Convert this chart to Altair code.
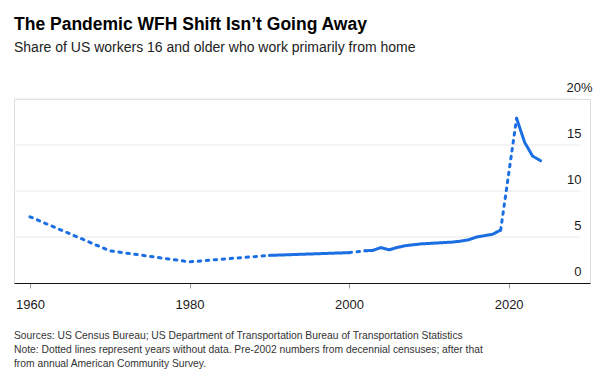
import altair as alt
import pandas as pd

# ---- data ----
census_years = [1960, 1970, 1980, 1990, 2000]
census_share = [7.2, 3.5, 2.3, 3.0, 3.3]
acs_years = [2002, 2003, 2004, 2005, 2006, 2007, 2008, 2009, 2010, 2011, 2012,
             2013, 2014, 2015, 2016, 2017, 2018, 2019, 2021, 2022, 2023, 2024]
acs_share = [3.5, 3.55, 3.85, 3.6, 3.85, 4.05, 4.15, 4.25, 4.3, 4.35, 4.4,
             4.45, 4.55, 4.7, 5.0, 5.15, 5.3, 5.75, 17.9, 15.3, 13.8, 13.3]
dotted_spans = [(1960, 1990), (2000, 2002), (2019, 2021)]
x_ticks = [1960, 1980, 2000, 2020]
y_ticks = [0, 5, 10, 15, 20]
grid_values = [5, 10, 15, 20]

title = "The Pandemic WFH Shift Isn\u2019t Going Away"
subtitle = "Share of US workers 16 and older who work primarily from home"
footer = ("Sources: US Census Bureau; US Department of Transportation Bureau of Transportation Statistics\n"
          "Note: Dotted lines represent years without data. Pre-2002 numbers from decennial censuses; after that\n"
          "from annual American Community Survey.")

years = census_years + acs_years
share = census_share + acs_share

rows = []
seg = 0
prev = None
for i in range(len(years) - 1):
    y0, y1 = years[i], years[i + 1]
    style = "dotted" if any(a <= y0 and y1 <= b for a, b in dotted_spans) else "solid"
    if style != prev:
        seg += 1
        rows.append(dict(year=y0, share=share[i], seg=seg, style=style))
        prev = style
    rows.append(dict(year=y1, share=share[i + 1], seg=seg, style=style))
df = pd.DataFrame(rows)

FONT = "Liberation Sans"
BLUE = "#1c6fe3"
W, H = 576, 184

x_scale = alt.Scale(domain=[1958, 2030.2], nice=False, zero=False)
y_scale = alt.Scale(domain=[0, 20], nice=False)

y_axis = alt.Axis(
    orient="right", values=y_ticks, grid=False, domain=False, ticks=False,
    labelExpr="datum.value == 20 ? '20%' : datum.label",
    labelAlign="right", labelBaseline="alphabetic", labelOffset=-8,
    labelPadding={"condition": {"test": "datum.value == 20", "value": 2}, "value": -9},
    labelFontSize=13, labelColor="#1a1a1a", labelFont=FONT, title=None,
)
x_axis = alt.Axis(
    values=x_ticks, format="d", grid=False, domainColor="#111", domainWidth=1,
    tickColor="#999", tickSize=5, labelPadding=10, labelFontSize=13,
    labelColor="#1a1a1a", labelFont=FONT, title=None,
)

grid = alt.Chart(pd.DataFrame({"share": grid_values})).mark_rule(
    color="#e8e8e8", strokeWidth=1
).encode(
    y=alt.Y("share:Q", scale=y_scale, axis=y_axis),
    x=alt.value(0), x2=alt.value(W - 10),
)

line = alt.Chart(df).mark_line(
    strokeWidth=3, strokeCap="round", strokeJoin="round", interpolate="linear", color=BLUE
).encode(
    x=alt.X("year:Q", scale=x_scale, axis=x_axis),
    y=alt.Y("share:Q", scale=y_scale, axis=y_axis),
    detail="seg:N",
    strokeDash=alt.StrokeDash("style:N", scale=alt.Scale(domain=["solid", "dotted"],
                                                          range=[[1, 0], [2.5, 5.5]]), legend=None),
)

notes = alt.Chart(alt.Data(values=[{}])).mark_text(
    text=footer, lineBreak="\n", lineHeight=14.2, align="left", baseline="middle",
    font=FONT, fontSize=10.3, color="#333"
).encode(x=alt.value(0), y=alt.value(236.6))

chart = alt.layer(grid, line, notes).properties(
    width=W, height=H,
    autosize=alt.AutoSizeParams(type="none"),
    padding={"left": 6, "top": 91, "right": 14, "bottom": 87},
    title=alt.TitleParams(
        text=title, subtitle=subtitle, anchor="start", frame="group",
        font=FONT, fontSize=17.5, fontWeight="bold", color="#000",
        subtitleFont=FONT, subtitleFontSize=14, subtitleColor="#222",
        subtitlePadding=8, offset=26,
    ),
).configure_view(stroke=None).configure(background="white")

chart.save("out.html", embed_options={"renderer": "svg", "actions": False})
